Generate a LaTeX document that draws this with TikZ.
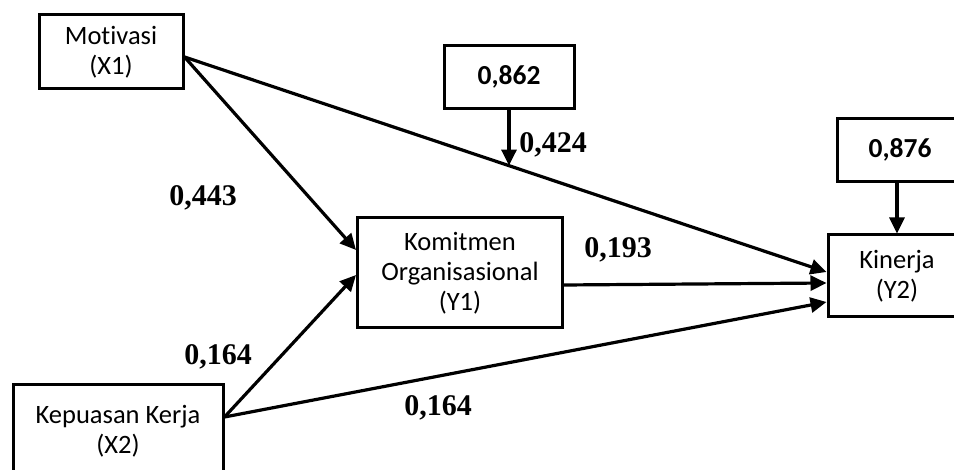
\documentclass[tikz,border=0pt]{standalone}
\usepackage{fontspec}
\setmainfont[Ligatures={NoCommon}]{Carlito}
\newfontfamily\coeffont{Liberation Serif}
\usepackage{tikz}
\usetikzlibrary{positioning,arrows.meta,calc}

\tikzset{
  varbox/.style={rectangle,draw=black,line width=3pt,fill=white,align=center,
    font=\fontsize{26.5}{30}\selectfont,inner sep=0pt},
  errbox/.style={varbox,font=\fontsize{27.5}{30}\selectfont\bfseries},
  coef/.style={font=\fontsize{30}{30}\selectfont\coeffont\bfseries},
  path/.style={line width=3.2pt,-{Triangle[length=16pt,width=15pt]}}
}

\begin{document}
\begin{tikzpicture}[x=1pt,y=-1pt]
\useasboundingbox (0,0) rectangle (954,470);
\clip (0,0) rectangle (954,470);

% variables
\node[varbox,minimum width=144pt,minimum height=74pt] (mot) at (111,52) {Motivasi\\(X1)};
\node[varbox,minimum width=210pt,minimum height=92pt] (kep) at (118,431) {Kepuasan Kerja\\(X2)};
\node[varbox,minimum width=205pt,minimum height=110pt] (kom) at (460,273) {Komitmen\\Organisasional\\(Y1)};
\node[varbox,minimum width=138pt,minimum height=82pt] (kin) at (897,276) {Kinerja\\(Y2)};

% residuals
\node[errbox,minimum width=130pt,minimum height=63pt] (e1) at (509,77) {0,862};
\node[errbox,minimum width=125pt,minimum height=63pt] (e2) at (900,150) {0,876};

% paths
\draw[path] ([yshift=-5pt]mot.east) -- ([yshift=23pt]kom.west);
\draw[path] ([yshift=-5pt]mot.east) -- coordinate[pos=0.505] (hit) ([yshift=4pt]kin.west);
\draw[path] ([yshift=14pt]kep.east) -- ([yshift=-2pt]kom.west);
\draw[path] ([yshift=14pt]kep.east) -- ([yshift=-26pt]kin.west);
\draw[path] ([yshift=-12pt]kom.east) -- ([yshift=-7pt]kin.west);
\draw[path] (e1.south) -- (e1.south |- hit);
\draw[path] (e2.south -| kin.north) -- (kin.north);

% coefficients
\node[coef] (c1) at (203,198) {0,443};
\node[coef] (c2) at (218,357) {0,164};
\node[coef] (c3) at (618,250) {0,193};
\node[coef] (c4) at (438,408) {0,164};
\node[coef] (c5) at (553,145) {0,424};
\end{tikzpicture}
\end{document}
